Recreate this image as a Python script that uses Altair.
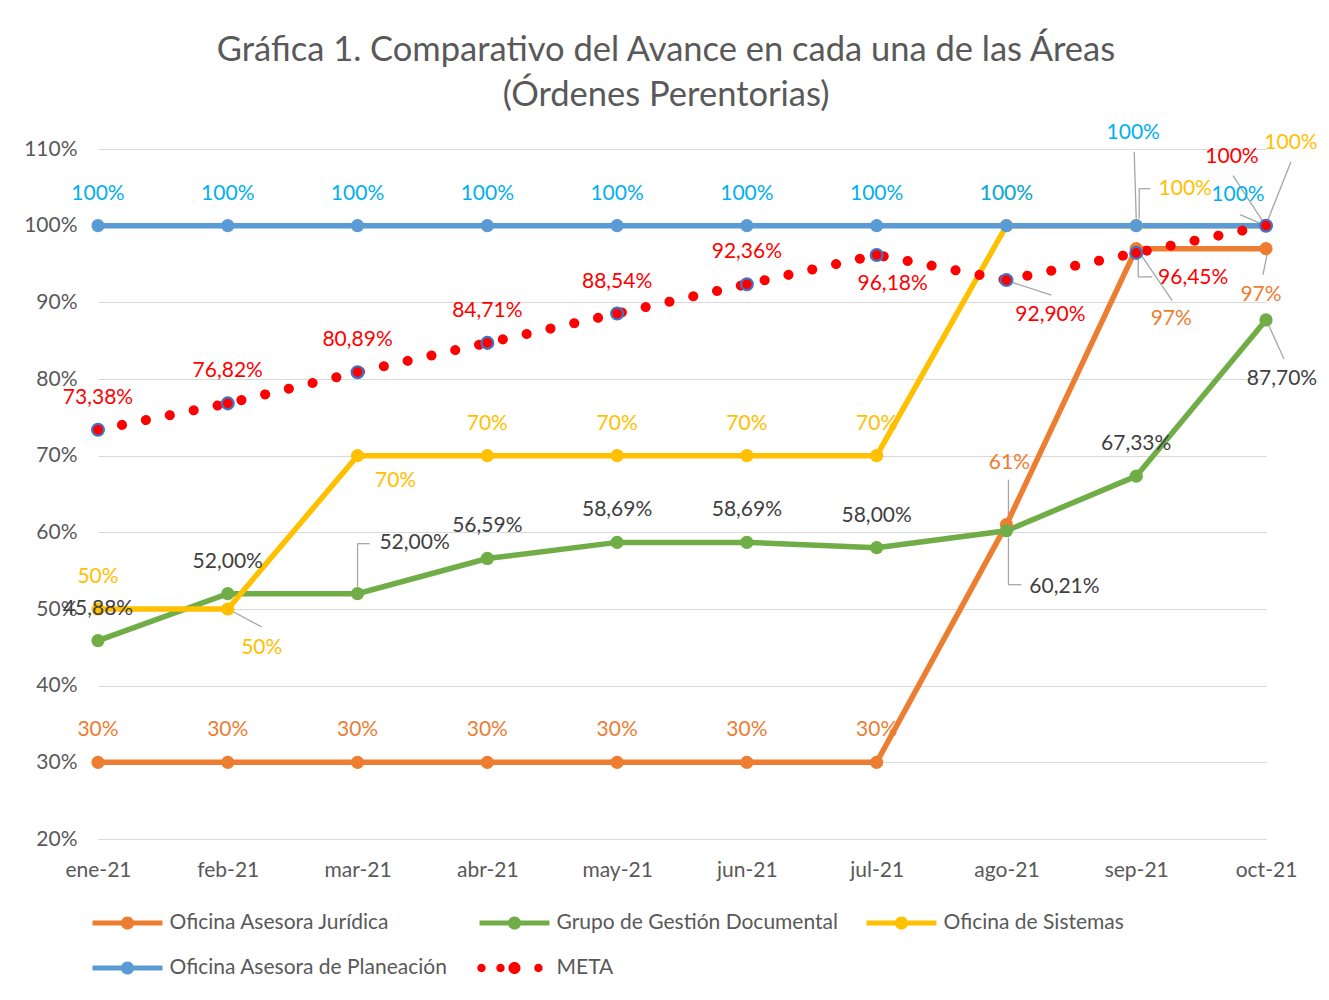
import altair as alt
import pandas as pd

# ---------------- data ----------------
months = ["ene-21", "feb-21", "mar-21", "abr-21", "may-21",
          "jun-21", "jul-21", "ago-21", "sep-21", "oct-21"]
juridica = [30, 30, 30, 30, 30, 30, 30, 61, 97, 97]
gestion = [45.88, 52.00, 52.00, 56.59, 58.69, 58.69, 58.00, 60.21, 67.33, 87.70]
sistemas = [50, 50, 70, 70, 70, 70, 70, 100, 100, 100]
planeacion = [100, 100, 100, 100, 100, 100, 100, 100, 100, 100]
meta = [73.38, 76.82, 80.89, 84.71, 88.54, 92.36, 96.18, 92.90, 96.45, 100]

series_names = ["Oficina Asesora Jurídica", "Grupo de Gestión Documental",
                "Oficina de Sistemas", "Oficina Asesora de Planeación", "META"]
y_ticks = [20, 30, 40, 50, 60, 70, 80, 90, 100, 110]
title_lines = ["Gráfica 1. Comparativo del Avance en cada una de las Áreas",
               "(Órdenes Perentorias)"]

# ---------------- styling ----------------
line_colors = ["#ED7D31", "#70AD47", "#FFC000", "#5B9BD5", "#FF0000"]
label_colors = ["#ED7D31", "#404040", "#FFC000", "#00B0F0", "#FF0000"]
decimal_series = {"Grupo de Gestión Documental", "META"}
FONT = "Lato"
GRAY = "#595959"
LEADER = "#A6A6A6"
JUR, GES, SIS, PLA, MET = series_names

# label nudges (dx, dy in px) for data labels that are not simply above the point
DEFAULT_NUDGE = (0, -32)
label_nudges = {
    (PLA, "sep-21"): (-3, -93),
    (PLA, "oct-21"): (-28, -31),
    (SIS, "feb-21"): (34, 39),
    (SIS, "mar-21"): (38, 25),
    (SIS, "sep-21"): (49, -37),
    (SIS, "oct-21"): (25, -83),
    (JUR, "ago-21"): (3, -62),
    (JUR, "sep-21"): (35, 70),
    (JUR, "oct-21"): (-5, 46),
    (GES, "mar-21"): (57, -51),
    (GES, "ago-21"): (58, 56),
    (GES, "oct-21"): (16, 59),
    (MET, "jul-21"): (16, 29),
    (MET, "ago-21"): (44, 35),
    (MET, "sep-21"): (57, 25),
    (MET, "oct-21"): (-34, -69),
}

# leader lines: (series, month, x0, y0, x1, y1) as pixel offsets from the data point
leaders = [
    (PLA, "sep-21", -2, -74, 0, -7),
    (SIS, "sep-21", 3, -37, 3, -7),
    (SIS, "sep-21", 3, -37, 14, -37),
    (MET, "sep-21", 2, 6, 2, 24),
    (MET, "sep-21", 2, 24, 16, 24),
    (JUR, "sep-21", 4, 5, 36, 52),
    (MET, "ago-21", 5, 2, 45, 15),
    (MET, "oct-21", -33, -50, -3, -4),
    (PLA, "oct-21", -26, -11, -5, -2),
    (SIS, "oct-21", 25, -64, 2, -6),
    (JUR, "oct-21", 1, 6, -3, 26),
    (GES, "oct-21", 3, 6, 18, 39),
    (JUR, "ago-21", 2, -45, 2, -7),
    (GES, "ago-21", 2, 7, 2, 54),
    (GES, "ago-21", 2, 54, 15, 54),
    (GES, "mar-21", 0, -7, 0, -50),
    (GES, "mar-21", 0, -50, 12, -50),
    (SIS, "feb-21", 6, 3, 34, 18),
]


def fmt(series, v):
    if series in decimal_series and abs(v - 100) > 1e-9:
        return f"{v:.2f}".replace(".", ",") + "%"
    return f"{v:.0f}%"


rows = []
for name, vals in zip(series_names, [juridica, gestion, sistemas, planeacion, meta]):
    for i, (m, v) in enumerate(zip(months, vals)):
        dx, dy = label_nudges.get((name, m), DEFAULT_NUDGE)
        rows.append({"series": name, "month": m, "idx": i, "value": v,
                     "label": fmt(name, v), "nudge": f"{dx},{dy}"})
df = pd.DataFrame(rows)


# legend symbol paths (unit coords, scaled by sqrt(size)/2)
def circ(cx, r):
    return f"M{cx - r},0A{r},{r},0,1,1,{cx + r},0A{r},{r},0,1,1,{cx - r},0Z"


LINE_SYM = "M-2.5,-0.18H2.5V0.18H-2.5Z " + circ(0, 0.47)
DOTS_SYM = " ".join([circ(-2.36, 0.3), circ(-1.0, 0.3), circ(0, 0.43), circ(1.71, 0.3)])

color_scale = alt.Scale(domain=series_names, range=line_colors)
fill_scale = alt.Scale(domain=series_names, range=label_colors)
shape_scale = alt.Scale(domain=series_names, range=[LINE_SYM] * 4 + [DOTS_SYM])

x_enc = alt.X("month:N",
              scale=alt.Scale(domain=months, type="point", padding=0),
              axis=alt.Axis(title=None, labelAngle=0, labelFontSize=21, labelColor=GRAY,
                            labelFont=FONT, ticks=False, grid=False, domainColor="#D9D9D9",
                            domainWidth=1.2, labelPadding=20))
y_enc = alt.Y("value:Q",
              scale=alt.Scale(domain=[20, 110], nice=False, zero=False),
              axis=alt.Axis(title=None, values=y_ticks, labelExpr="datum.value + '%'",
                            labelFontSize=21, labelColor=GRAY, labelFont=FONT, ticks=False,
                            domain=False, gridColor="#D9D9D9", gridWidth=1.2,
                            labelPadding=21))

base = alt.Chart(df)
areas = base.transform_filter(alt.datum.series != MET)
metad = base.transform_filter(alt.datum.series == MET)

legend_def = alt.Legend(
    title=None, orient="none", legendX=15.5, legendY=760, columns=3,
    direction="horizontal",
    symbolSize=784, labelFontSize=21, labelFont=FONT, labelColor=GRAY,
    labelOffset=28, rowPadding=21, columnPadding=25, gridAlign="all",
    symbolStrokeWidth=0, symbolOpacity=1, padding=0, labelLimit=500,
)
legend_layer = base.mark_point(filled=True, opacity=0, size=0).encode(
    x=x_enc, y=y_enc,
    color=alt.Color("series:N", scale=color_scale, legend=legend_def),
    shape=alt.Shape("series:N", scale=shape_scale, legend=legend_def),
)

leader_layers = []
for (s, m, x0, y0, x1, y1) in leaders:
    leader_layers.append(
        base.transform_filter((alt.datum.series == s) & (alt.datum.month == m)).mark_rule(
            color=LEADER, strokeWidth=1.3,
            xOffset=x0, yOffset=y0, x2Offset=x1, y2Offset=y1,
        ).encode(x=x_enc, y=y_enc, x2=alt.X2("month"), y2=alt.Y2("value"))
    )

lines = areas.mark_line(strokeWidth=5.5, strokeCap="round").encode(
    x=x_enc, y=y_enc,
    color=alt.Color("series:N", scale=color_scale, legend=None),
    order=alt.Order("idx:Q"),
)

meta_line = metad.mark_line(strokeWidth=10, strokeDash=[0.1, 24.3], strokeCap="round",
                            color="#FF0000").encode(
    x=x_enc, y=y_enc, order=alt.Order("idx:Q"))

pts = areas.mark_point(filled=True, size=175, opacity=1).encode(
    x=x_enc, y=y_enc,
    color=alt.Color("series:N", scale=color_scale, legend=None),
)

meta_pts = metad.mark_point(filled=True, size=140, opacity=1, fill="#FF0000",
                            stroke="#4472C4", strokeWidth=2.2).encode(x=x_enc, y=y_enc)

text_layers = []
for nudge in df["nudge"].unique():
    dx, dy = [int(s) for s in nudge.split(",")]
    text_layers.append(
        base.transform_filter(alt.datum.nudge == nudge).mark_text(
            dx=dx, dy=dy, fontSize=21, font=FONT, align="center", baseline="middle"
        ).encode(
            x=x_enc, y=y_enc, text="label:N",
            fill=alt.Fill("series:N", scale=fill_scale, legend=None),
        )
    )

chart = alt.layer(legend_layer, *leader_layers, lines, meta_line, pts, meta_pts,
                  *text_layers).properties(
    width=1168, height=690,
    title=alt.TitleParams(text=title_lines, fontSize=34.5, font=FONT, fontWeight="normal",
                          color=GRAY, anchor="middle", dx=-16, dy=66, offset=40,
                          lineHeight=45, baseline="bottom"),
    padding={"left": 90, "top": 141, "right": 55, "bottom": 150},
    autosize=alt.AutoSizeParams(type="none"),
).configure(font=FONT).configure_view(strokeWidth=0, stroke="transparent")

chart.save("out.html", embed_options={"renderer": "svg", "actions": False})
